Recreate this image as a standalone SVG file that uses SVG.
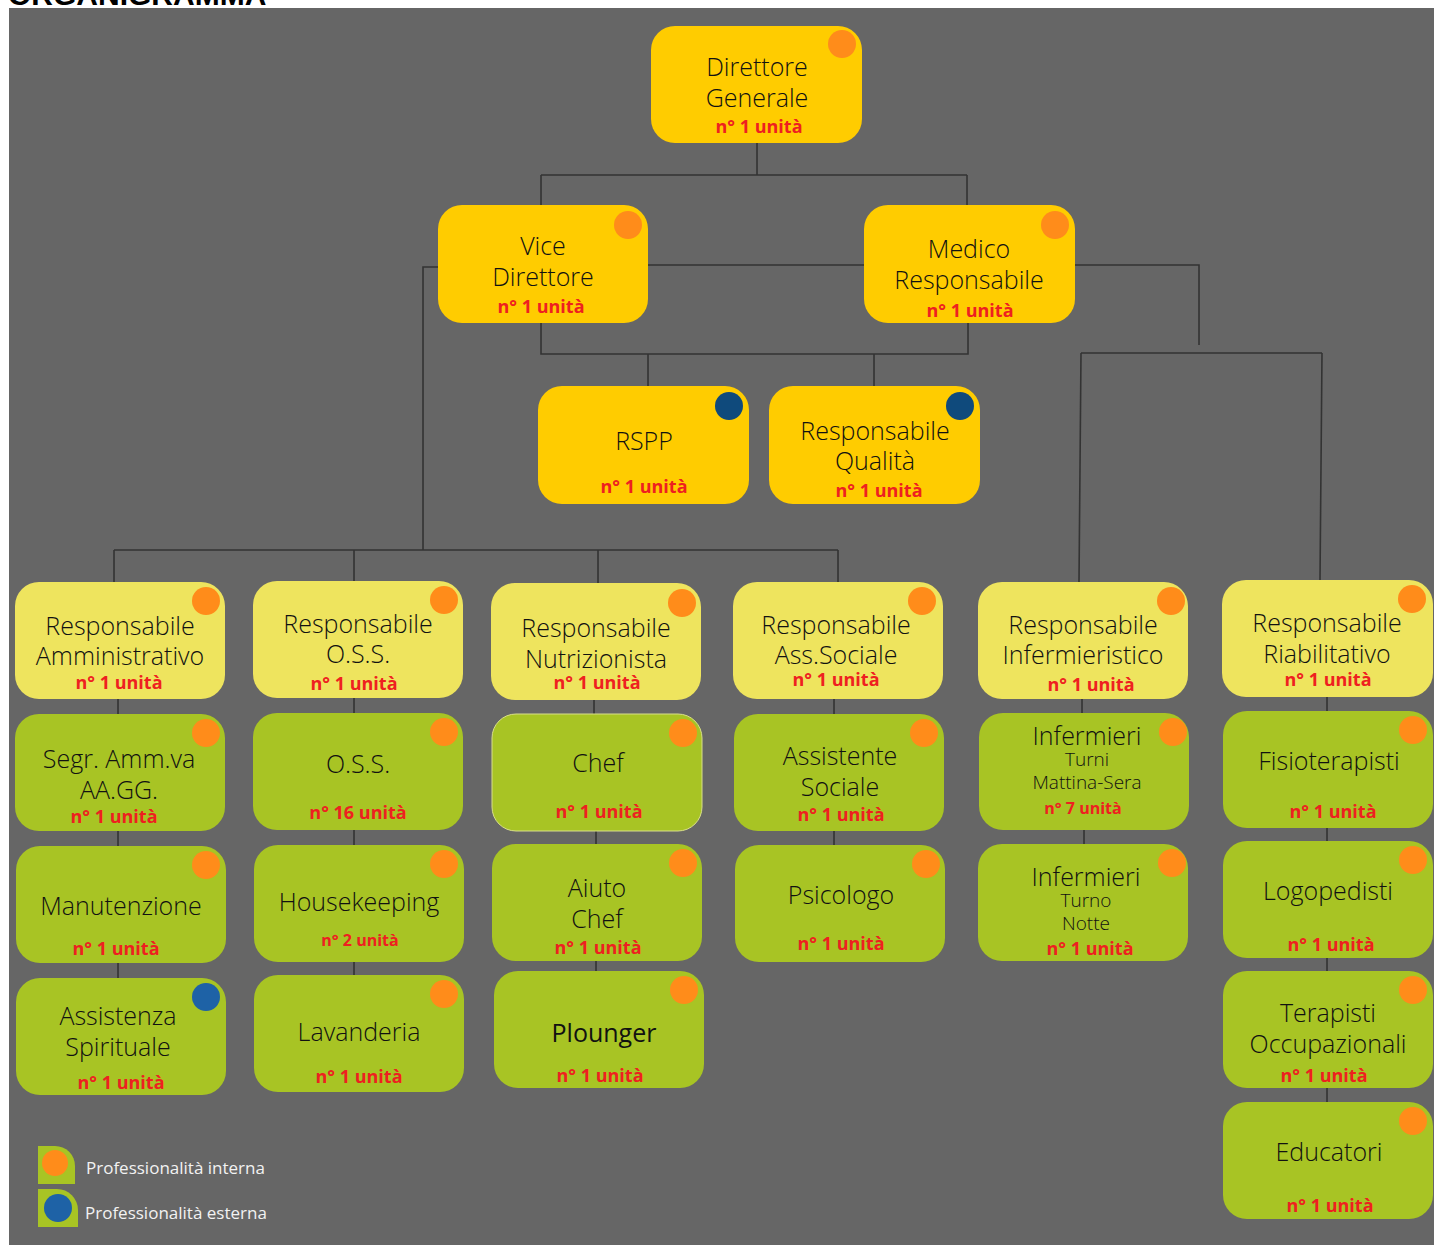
<svg xmlns="http://www.w3.org/2000/svg" width="1434" height="1245" viewBox="0 0 1434 1245">
<style>
.bg{fill:#666666}
.y1{fill:#FFCC00}
.y2{fill:#EEE45E}
.g{fill:#A8C424}
.or{fill:#FF8C1A}
.bl{fill:#0F4A7C}
.bl2{fill:#1E62A6}
.t{font-family:"Open Sans","Noto Sans",sans-serif;font-size:25px;font-weight:300;fill:#111111;text-anchor:middle}
.s{font-family:"Open Sans","Noto Sans",sans-serif;font-size:19px;font-weight:300;fill:#111111;text-anchor:middle}
.n{font-family:"Open Sans","Noto Sans",sans-serif;font-size:18px;font-weight:bold;fill:#EE2020;text-anchor:middle}
.ns{font-family:"Open Sans","Noto Sans",sans-serif;font-size:16px;font-weight:bold;fill:#EE2020;text-anchor:middle}
.lg{font-family:"Open Sans","Noto Sans",sans-serif;font-size:17px;fill:#F2F2F2}
.c{fill:none;stroke:#333333;stroke-width:1.6}
</style>
<text x="8" y="5" font-family="Liberation Sans, Arial, sans-serif" font-size="30" font-weight="bold" fill="#000">ORGANIGRAMMA</text>
<rect class="bg" x="9" y="8" width="1425" height="1237"/>

<g id="connectors">
<path class="c" d="M757,143V175M541,175H967M541,175V205M967,175V205"/>
<path class="c" d="M648,265H864"/>
<path class="c" d="M1075,265H1199V345"/>
<path class="c" d="M438,267H423V550"/>
<path class="c" d="M541,323V354H968V323M648,354V386M874,354V386"/>
<path class="c" d="M1081,353H1322M1081,353L1079,582M1322,353L1320,580"/>
<path class="c" d="M114,550H838M114,550V582M354,550V581M598,550V583M838,550V582"/>
<path class="c" d="M118,699V714M118,831V846M118,963V978"/>
<path class="c" d="M354,698V713M354,830V845M354,962V975"/>
<path class="c" d="M594,700V714M596,831V844M596,961V971"/>
<path class="c" d="M834,699V714M834,831V845"/>
<path class="c" d="M1082,699V713M1084,830V844"/>
<path class="c" d="M1327,697V711M1327,828V841M1327,958V971M1327,1088V1102"/>
</g>

<g id="direttore-generale">
<rect class="y1" x="651" y="26" width="211" height="117" rx="24"/>
<circle class="or" cx="842" cy="44" r="14"/>
<text class="t" x="757" y="76">Direttore</text>
<text class="t" x="757" y="107">Generale</text>
<text class="n" x="759" y="133">n° 1 unità</text>
</g>

<g id="vice-direttore">
<rect class="y1" x="438" y="205" width="210" height="118" rx="24"/>
<circle class="or" cx="628" cy="225" r="14"/>
<text class="t" x="543" y="255">Vice</text>
<text class="t" x="543" y="286">Direttore</text>
<text class="n" x="541" y="313">n° 1 unità</text>
</g>

<g id="medico-responsabile">
<rect class="y1" x="864" y="205" width="211" height="118" rx="24"/>
<circle class="or" cx="1055" cy="225" r="14"/>
<text class="t" x="969" y="258">Medico</text>
<text class="t" x="969" y="289">Responsabile</text>
<text class="n" x="970" y="317">n° 1 unità</text>
</g>

<g id="rspp">
<rect class="y1" x="538" y="386" width="211" height="118" rx="24"/>
<circle class="bl" cx="729" cy="406" r="14"/>
<text class="t" x="644" y="450">RSPP</text>
<text class="n" x="644" y="493">n° 1 unità</text>
</g>

<g id="responsabile-qualita">
<rect class="y1" x="769" y="386" width="211" height="118" rx="24"/>
<circle class="bl" cx="960" cy="406" r="14"/>
<text class="t" x="875" y="440">Responsabile</text>
<text class="t" x="875" y="470">Qualità</text>
<text class="n" x="879" y="497">n° 1 unità</text>
</g>

<g id="resp-amministrativo">
<rect class="y2" x="15" y="582" width="210" height="117" rx="24"/>
<circle class="or" cx="206" cy="601" r="14"/>
<text class="t" x="120" y="635">Responsabile</text>
<text class="t" x="120" y="665">Amministrativo</text>
<text class="n" x="119" y="689">n° 1 unità</text>
</g>

<g id="resp-oss">
<rect class="y2" x="253" y="581" width="210" height="117" rx="24"/>
<circle class="or" cx="444" cy="600" r="14"/>
<text class="t" x="358" y="633">Responsabile</text>
<text class="t" x="358" y="663">O.S.S.</text>
<text class="n" x="354" y="690">n° 1 unità</text>
</g>

<g id="resp-nutrizionista">
<rect class="y2" x="491" y="583" width="210" height="117" rx="24"/>
<circle class="or" cx="682" cy="603" r="14"/>
<text class="t" x="596" y="637">Responsabile</text>
<text class="t" x="596" y="668">Nutrizionista</text>
<text class="n" x="597" y="689">n° 1 unità</text>
</g>

<g id="resp-ass-sociale">
<rect class="y2" x="733" y="582" width="210" height="117" rx="24"/>
<circle class="or" cx="922" cy="601" r="14"/>
<text class="t" x="836" y="634">Responsabile</text>
<text class="t" x="836" y="664">Ass.Sociale</text>
<text class="n" x="836" y="686">n° 1 unità</text>
</g>

<g id="resp-infermieristico">
<rect class="y2" x="978" y="582" width="210" height="117" rx="24"/>
<circle class="or" cx="1171" cy="601" r="14"/>
<text class="t" x="1083" y="634">Responsabile</text>
<text class="t" x="1083" y="664">Infermieristico</text>
<text class="n" x="1091" y="691">n° 1 unità</text>
</g>

<g id="resp-riabilitativo">
<rect class="y2" x="1222" y="580" width="211" height="117" rx="24"/>
<circle class="or" cx="1412" cy="599" r="14"/>
<text class="t" x="1327" y="632">Responsabile</text>
<text class="t" x="1327" y="663">Riabilitativo</text>
<text class="n" x="1328" y="686">n° 1 unità</text>
</g>

<g id="segr-amm">
<rect class="g" x="15" y="714" width="210" height="117" rx="24"/>
<circle class="or" cx="206" cy="733" r="14"/>
<text class="t" x="119" y="768">Segr. Amm.va</text>
<text class="t" x="119" y="799">AA.GG.</text>
<text class="n" x="114" y="823">n° 1 unità</text>
</g>

<g id="oss">
<rect class="g" x="253" y="713" width="210" height="117" rx="24"/>
<circle class="or" cx="444" cy="732" r="14"/>
<text class="t" x="358" y="773">O.S.S.</text>
<text class="n" x="358" y="819">n° 16 unità</text>
</g>

<g id="chef">
<rect class="g" x="492" y="714" width="210" height="117" rx="24" stroke="#D8DE8A" stroke-width="1"/>
<circle class="or" cx="683" cy="733" r="14"/>
<text class="t" x="598" y="772">Chef</text>
<text class="n" x="599" y="818">n° 1 unità</text>
</g>

<g id="assistente-sociale">
<rect class="g" x="734" y="714" width="210" height="117" rx="24"/>
<circle class="or" cx="924" cy="733" r="14"/>
<text class="t" x="840" y="765">Assistente</text>
<text class="t" x="840" y="796">Sociale</text>
<text class="n" x="841" y="821">n° 1 unità</text>
</g>

<g id="infermieri-mattina-sera">
<rect class="g" x="979" y="713" width="210" height="117" rx="24"/>
<circle class="or" cx="1173" cy="732" r="14"/>
<text class="t" x="1087" y="745">Infermieri</text>
<text class="s" x="1087" y="766">Turni</text>
<text class="s" x="1087" y="789">Mattina-Sera</text>
<text class="ns" x="1083" y="814">n° 7 unità</text>
</g>

<g id="fisioterapisti">
<rect class="g" x="1223" y="711" width="210" height="117" rx="24"/>
<circle class="or" cx="1413" cy="730" r="14"/>
<text class="t" x="1329" y="770">Fisioterapisti</text>
<text class="n" x="1333" y="818">n° 1 unità</text>
</g>

<g id="manutenzione">
<rect class="g" x="16" y="846" width="210" height="117" rx="24"/>
<circle class="or" cx="206" cy="865" r="14"/>
<text class="t" x="121" y="915">Manutenzione</text>
<text class="n" x="116" y="955">n° 1 unità</text>
</g>

<g id="housekeeping">
<rect class="g" x="254" y="845" width="210" height="117" rx="24"/>
<circle class="or" cx="444" cy="864" r="14"/>
<text class="t" x="359" y="911">Housekeeping</text>
<text class="ns" x="360" y="946">n° 2 unità</text>
</g>

<g id="aiuto-chef">
<rect class="g" x="492" y="844" width="210" height="117" rx="24"/>
<circle class="or" cx="683" cy="863" r="14"/>
<text class="t" x="597" y="897">Aiuto</text>
<text class="t" x="597" y="928">Chef</text>
<text class="n" x="598" y="954">n° 1 unità</text>
</g>

<g id="psicologo">
<rect class="g" x="735" y="845" width="210" height="117" rx="24"/>
<circle class="or" cx="926" cy="864" r="14"/>
<text class="t" x="841" y="904">Psicologo</text>
<text class="n" x="841" y="950">n° 1 unità</text>
</g>

<g id="infermieri-notte">
<rect class="g" x="978" y="844" width="210" height="117" rx="24"/>
<circle class="or" cx="1172" cy="863" r="14"/>
<text class="t" x="1086" y="886">Infermieri</text>
<text class="s" x="1086" y="907">Turno</text>
<text class="s" x="1086" y="930">Notte</text>
<text class="n" x="1090" y="955">n° 1 unità</text>
</g>

<g id="logopedisti">
<rect class="g" x="1223" y="841" width="210" height="117" rx="24"/>
<circle class="or" cx="1413" cy="860" r="14"/>
<text class="t" x="1328" y="900">Logopedisti</text>
<text class="n" x="1331" y="951">n° 1 unità</text>
</g>

<g id="assistenza-spirituale">
<rect class="g" x="16" y="978" width="210" height="117" rx="24"/>
<circle class="bl2" cx="206" cy="997" r="14"/>
<text class="t" x="118" y="1025">Assistenza</text>
<text class="t" x="118" y="1056">Spirituale</text>
<text class="n" x="121" y="1089">n° 1 unità</text>
</g>

<g id="lavanderia">
<rect class="g" x="254" y="975" width="210" height="117" rx="24"/>
<circle class="or" cx="444" cy="994" r="14"/>
<text class="t" x="359" y="1041">Lavanderia</text>
<text class="n" x="359" y="1083">n° 1 unità</text>
</g>

<g id="plounger">
<rect class="g" x="494" y="971" width="210" height="117" rx="24"/>
<circle class="or" cx="684" cy="990" r="14"/>
<text class="t" x="604" y="1042" style="font-weight:400">Plounger</text>
<text class="n" x="600" y="1082">n° 1 unità</text>
</g>

<g id="terapisti-occupazionali">
<rect class="g" x="1223" y="971" width="210" height="117" rx="24"/>
<circle class="or" cx="1413" cy="990" r="14"/>
<text class="t" x="1328" y="1022">Terapisti</text>
<text class="t" x="1328" y="1053">Occupazionali</text>
<text class="n" x="1324" y="1082">n° 1 unità</text>
</g>

<g id="educatori">
<rect class="g" x="1223" y="1102" width="210" height="117" rx="24"/>
<circle class="or" cx="1413" cy="1121" r="14"/>
<text class="t" x="1329" y="1161">Educatori</text>
<text class="n" x="1330" y="1212">n° 1 unità</text>
</g>

<g id="legend">
<path class="g" d="M38,1184V1146H55A20,20 0 0 1 75,1166V1184Z"/>
<circle class="or" cx="55" cy="1163" r="13"/>
<text class="lg" x="86" y="1174">Professionalità interna</text>
<path class="g" d="M38,1227V1189H57A21,21 0 0 1 78,1210V1227Z"/>
<circle class="bl2" cx="58" cy="1208" r="14"/>
<text class="lg" x="85" y="1219">Professionalità esterna</text>
</g>
</svg>
